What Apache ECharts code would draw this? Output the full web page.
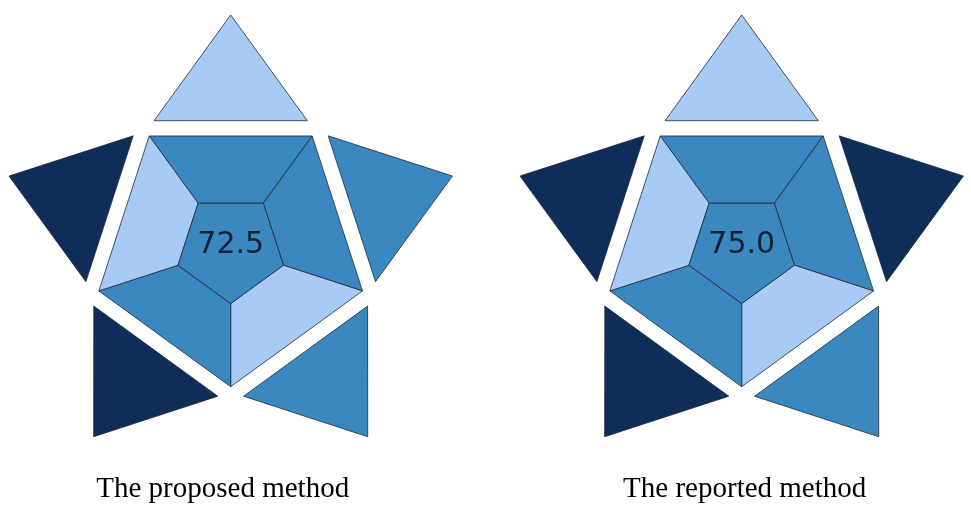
<!DOCTYPE html>
<html>
<head>
<meta charset="utf-8">
<script src="https://cdn.jsdelivr.net/npm/echarts@6/dist/echarts.min.js"></script>
<style>
  html, body { margin: 0; padding: 0; background: #fff; }
  #chart { width: 971px; height: 508px; }
</style>
</head>
<body>
<div id="chart"></div>
<script>
const methods = ['The proposed method', 'The reported method']
const scores = [72.5, 75.0]
// colour level per segment, clockwise from the top: 1 light, 2 medium, 3 dark
const triangleLevels = [
  [1, 2, 2, 3, 3],
  [1, 3, 2, 3, 3],
]
const ringLevels = [
  [2, 2, 1, 2, 1],
  [2, 2, 1, 2, 1],
]
const centreLevels = [2, 2]

const palette = { 1: '#a8cbf6', 2: '#3b88c1', 3: '#0e2d59' }
const edge = '#1d2a38'

// shape geometry, in units of the outer pentagon radius
const innerR = 0.4
const triBase = 0.919
const triHalf = 0.553
const triApex = 1.682

const chart = echarts.init(document.getElementById('chart'))

function rot(p, k) {
  const a = (k * 72 * Math.PI) / 180
  return [p[0] * Math.cos(a) - p[1] * Math.sin(a), p[0] * Math.sin(a) + p[1] * Math.cos(a)]
}

const s36 = Math.sin(Math.PI / 5), c36 = Math.cos(Math.PI / 5)
const shapes = {
  tri: [[-triHalf, -triBase], [triHalf, -triBase], [0, -triApex]],
  ring: [[-s36, -c36], [s36, -c36], [s36 * innerR, -c36 * innerR], [-s36 * innerR, -c36 * innerR]],
}

function toPixels(api, local, k) {
  const c = api.coord([api.value(0), 0])
  const unit = api.size([0, 1])[1]
  return local.map(p => {
    const q = rot(p, k)
    return [c[0] + q[0] * unit, c[1] + q[1] * unit]
  })
}

function polyItem(pts, level) {
  return {
    type: 'polygon',
    shape: { points: pts },
    style: { fill: palette[level], stroke: edge, lineWidth: 0.8 },
  }
}

const triData = [], ringData = [], centreData = []
methods.forEach((m, i) => {
  triangleLevels[i].forEach((lv, k) => triData.push([i, k, lv]))
  ringLevels[i].forEach((lv, k) => ringData.push([i, k, lv]))
  centreData.push([i, 0, centreLevels[i]])
})

const labelFont = { fontFamily: 'Liberation Serif', fontSize: 29, color: '#000' }

const option = {
  animation: false,
  grid: { left: 230.7, right: 229.3, top: 0, bottom: 38 },
  xAxis: {
    type: 'category',
    data: methods,
    boundaryGap: false,
    axisLine: { show: false },
    axisTick: { show: false },
    axisLabel: {
      margin: 5,
      ...labelFont,
      formatter: (v, i) => (i === 0 ? `{l|${v}}` : `{r|${v}}`),
      rich: {
        l: { ...labelFont, padding: [0, 16, 0, 0] },
        r: { ...labelFont, padding: [0, 0, 0, 6] },
      },
    },
  },
  yAxis: {
    type: 'value',
    min: -1.601,
    max: 1.79,
    show: false,
  },
  series: [
    {
      type: 'custom',
      data: triData,
      renderItem: (params, api) => polyItem(toPixels(api, shapes.tri, api.value(1)), api.value(2)),
    },
    {
      type: 'custom',
      data: ringData,
      renderItem: (params, api) => polyItem(toPixels(api, shapes.ring, api.value(1)), api.value(2)),
    },
    {
      type: 'custom',
      data: centreData,
      renderItem: (params, api) => {
        const local = [0, 1, 2, 3, 4].map(k => rot([0, innerR], k))
        return polyItem(toPixels(api, local, 0), api.value(2))
      },
    },
    {
      type: 'scatter',
      symbolSize: 0,
      data: scores.map((v, i) => [i, 0]),
      label: {
        show: true,
        position: 'inside',
        offset: [0, -3],
        formatter: p => scores[p.dataIndex].toFixed(1),
        fontFamily: 'DejaVu Sans',
        fontSize: 30,
        color: '#05080f',
      },
    },
  ],
}

chart.setOption(option)
</script>
</body>
</html>
